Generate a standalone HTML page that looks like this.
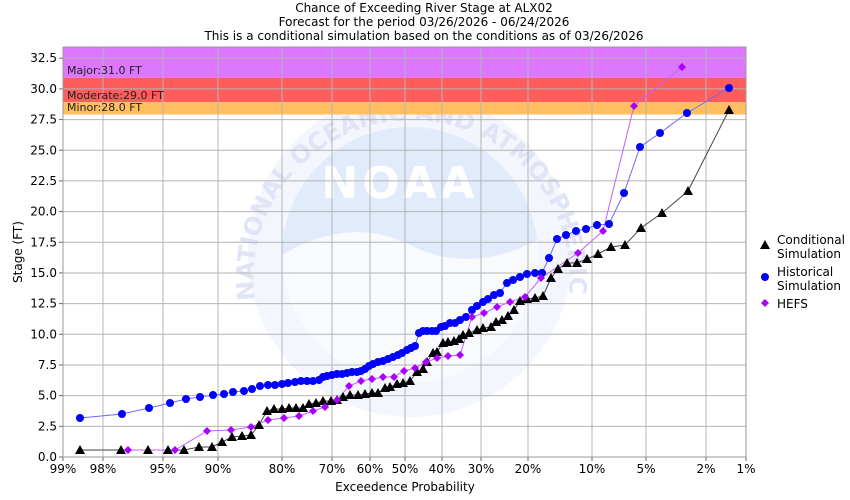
<!DOCTYPE html>
<html><head><meta charset="utf-8"><style>
body{margin:0;background:#fff;}
svg{display:block;font-family:"DejaVu Sans","Liberation Sans",sans-serif;}
</style></head><body>
<svg id="c" width="850" height="500" xmlns="http://www.w3.org/2000/svg">
<rect width="850" height="500" fill="#fff"/>
<g font-size="12" fill="#000" text-anchor="middle">
<text x="424" y="12">Chance of Exceeding River Stage at ALX02</text>
<text x="424" y="26">Forecast for the period 03/26/2026 - 06/24/2026</text>
<text x="424" y="40">This is a conditional simulation based on the conditions as of 03/26/2026</text>
</g>
<defs><clipPath id="pc"><rect x="63" y="47" width="683" height="410"/></clipPath>
<path id="arc" d="M 255 300 A 158 158 0 1 1 568 300"/></defs>
<g clip-path="url(#pc)">
<circle cx="410" cy="255" r="162" fill="#f3f6fd"/>
<circle cx="410" cy="255" r="128" fill="#e2ebfc"/>
<path d="M282 255 Q350 215 410 245 Q470 275 538 240 L538 255 A128 128 0 0 1 282 255Z" fill="#fff" opacity="0.75"/>
<text x="400" y="198" font-size="44" font-weight="bold" fill="#fff" text-anchor="middle" letter-spacing="4">NOAA</text>
<text font-size="24" fill="#e0e4f6" font-weight="bold"><textPath href="#arc">NATIONAL OCEANIC AND ATMOSPHERIC ADMINISTRATION</textPath></text>
<rect x="63" y="47" width="683" height="30.7" fill="#dd77ff"/>
<rect x="63" y="77.7" width="683" height="24.5" fill="#ff5c5c"/>
<rect x="63" y="102.2" width="683" height="12.3" fill="#ffbf60"/>
</g>
<g id="grid" stroke="#b4b4b4" stroke-width="1"></g>
<rect x="63" y="47" width="683" height="410" fill="none" stroke="#999"/>
<g font-size="11" fill="#222">
<text x="67" y="74">Major:31.0 FT</text>
<text x="67" y="99">Moderate:29.0 FT</text>
<text x="67" y="111">Minor:28.0 FT</text>
</g>
<g id="ylab" font-size="12" text-anchor="end"></g>
<g id="xlab" font-size="12" text-anchor="middle"></g>
<text x="405" y="491" font-size="12" text-anchor="middle">Exceedence Probability</text>
<text transform="translate(22,252) rotate(-90)" font-size="12" text-anchor="middle">Stage (FT)</text>
<g id="series"></g>
<g font-size="12">
<polygon points="765,240 770,249 760,249" fill="#000"/>
<text x="777" y="244">Conditional</text><text x="777" y="258">Simulation</text>
<circle cx="765" cy="277" r="4" fill="#00f"/>
<text x="777" y="276">Historical</text><text x="777" y="290">Simulation</text>
<polygon points="765,299 769,303 765,307 761,303" fill="#a0f"/>
<text x="777" y="308">HEFS</text>
</g>
</svg>
<script>
var NS="http://www.w3.org/2000/svg";
function el(t,a,p){var e=document.createElementNS(NS,t);for(var k in a)e.setAttribute(k,a[k]);p.appendChild(e);return e;}
var grid=document.getElementById('grid'),yl=document.getElementById('ylab'),xl=document.getElementById('xlab');
for(var i=0;i<=13;i++){var v=i*2.5,y=457-v*12.27;
 if(i>0)el('line',{x1:63,x2:746,y1:y,y2:y},grid);
 el('line',{x1:59,x2:63,y1:y,y2:y,stroke:'#666'},grid);
 var t=el('text',{x:57,y:y+4},yl);t.textContent=v.toFixed(1);}
var xs=[[63,'99%'],[103,'98%'],[163,'95%'],[218,'90%'],[282,'80%'],[332,'70%'],[370,'60%'],[405,'50%'],[442,'40%'],[481,'30%'],[528,'20%'],[592,'10%'],[646,'5%'],[706,'2%'],[746,'1%']];
xs.forEach(function(p){el('line',{x1:p[0],x2:p[0],y1:47,y2:457},grid);el('line',{x1:p[0],x2:p[0],y1:457,y2:461,stroke:'#666'},grid);
 var t=el('text',{x:p[0],y:473},xl);t.textContent=p[1];});
var S=document.getElementById('series');
var blue=[80,418,122,414,149,408,170,403,186,399,200,397,213,395,224,394,233,392,244,391,252,389,260,386,268,385,275,385,282,384,288,383,295,382,301,381,307,381,313,381,319,380,323,377,327,376,332,375,337,374,342,374,347,373,352,372,357,372,361,371,365,369,369,366,373,364,378,362,383,361,388,359,393,357,398,355,402,353,407,350,411,348,415,346,419,333,423,331,427,331,432,331,436,331,441,327,445,326,450,323,455,323,460,320,466,317,472,310,477,306,483,302,488,299,494,295,500,293,507,283,513,280,520,277,527,274,535,273,542,273,549,258,557,239,566,235,576,231,586,229,597,225,609,224,624,193,640,147,660,133,687,113,729,88];
var blk=[80,450,121,450,148,450,168,450,184,450,199,447,212,447,222,442,232,437,242,436,251,435,259,425,267,411,274,409,282,409,289,408,296,408,303,408,309,404,316,403,323,401,331,401,337,400,343,397,350,395,358,395,365,394,372,393,378,393,385,388,390,387,397,384,403,383,410,381,417,372,423,369,427,362,433,353,437,352,443,343,448,342,454,341,459,339,463,335,469,333,477,330,483,328,491,327,496,322,502,320,508,316,514,310,520,301,527,299,535,298,543,296,551,278,558,269,567,263,577,263,587,259,598,254,611,247,625,245,641,228,662,213,688,191,729,110];
var pur=[128,450,175,450,207,431,231,430,251,427,268,420,284,418,299,416,313,411,325,407,337,400,349,386,361,381,372,379,383,377,394,377,404,371,415,368,426,362,437,358,448,356,460,355,472,317,484,313,497,307,510,302,525,297,541,278,578,253,603,231,634,106,682,67];
function pts(a){var s=[];for(var i=0;i<a.length;i+=2)s.push(a[i]+','+a[i+1]);return s.join(' ');}
el('polyline',{points:pts(blk),fill:'none',stroke:'#444','stroke-width':1},S);
el('polyline',{points:pts(blue),fill:'none',stroke:'#6a6aff','stroke-width':1},S);
el('polyline',{points:pts(pur),fill:'none',stroke:'#c060ff','stroke-width':1},S);
for(var i=0;i<blk.length;i+=2){var x=blk[i],y=blk[i+1];el('polygon',{points:x+','+(y-5)+' '+(x+5)+','+(y+4)+' '+(x-5)+','+(y+4),fill:'#000'},S);}
for(var i=0;i<blue.length;i+=2)el('circle',{cx:blue[i],cy:blue[i+1],r:4,fill:'#00f'},S);
for(var i=0;i<pur.length;i+=2){var x=pur[i],y=pur[i+1];el('polygon',{points:x+','+(y-4)+' '+(x+4)+','+y+' '+x+','+(y+4)+' '+(x-4)+','+y,fill:'#a0f'},S);}
</script>
</body></html>
